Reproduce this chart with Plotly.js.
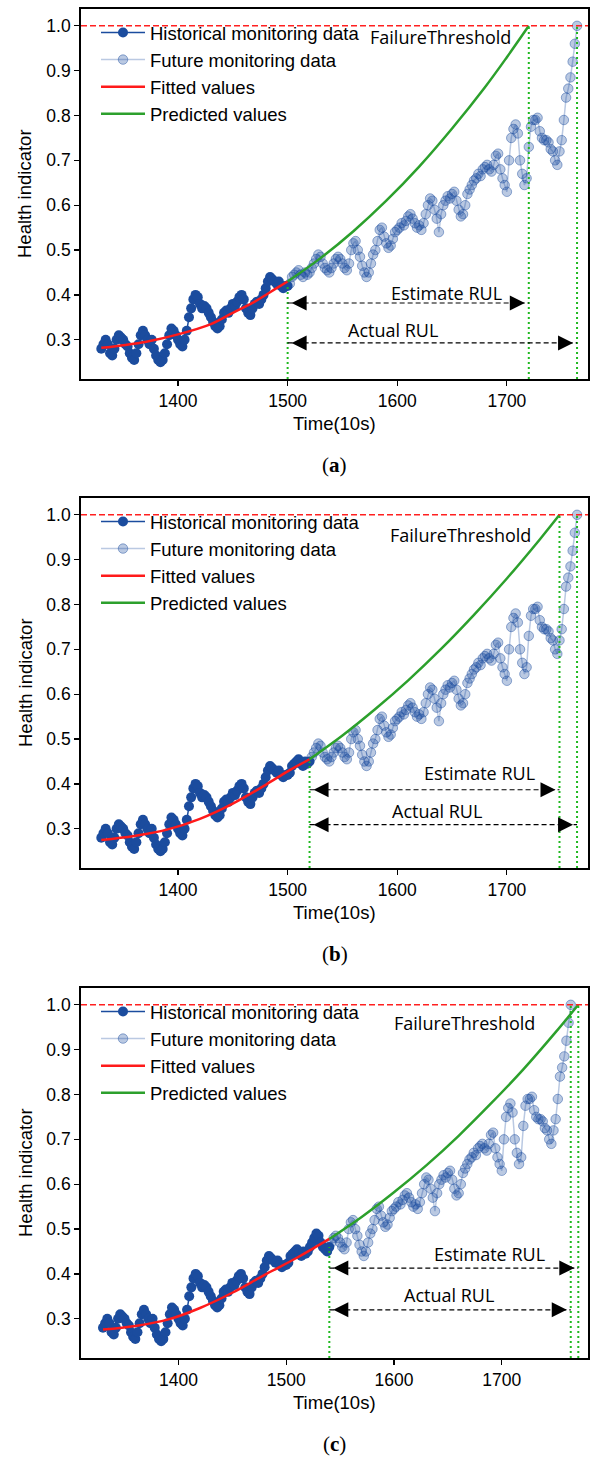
<!DOCTYPE html>
<html><head><meta charset="utf-8">
<script src="https://cdn.plot.ly/plotly-3.0.1.min.js"></script>
<style>html,body{margin:0;padding:0;background:#fff}</style>
</head><body><div id="chart" style="width:591px;height:1459px"></div>
<script>
// ---------------- DATA ----------------
const timeStamps = [
1330,1332,1334,1336,1338,1340,1342,1344,1346,1348,
1350,1352,1354,1356,1358,1360,1362,1364,1366,1368,
1370,1372,1374,1376,1378,1380,1382,1384,1386,1388,
1390,1392,1394,1396,1398,1400,1402,1404,1406,1408,
1410,1412,1414,1416,1418,1420,1422,1424,1426,1428,
1430,1432,1434,1436,1438,1440,1442,1444,1446,1448,
1450,1452,1454,1456,1458,1460,1462,1464,1466,1468,
1470,1472,1474,1476,1478,1480,1482,1484,1486,1488,
1490,1492,1494,1496,1498,1500,1502,1504,1506,1508,
1510,1512,1514,1516,1518,1520,1522,1524,1526,1528,
1530,1532,1534,1536,1538,1540,1542,1544,1546,1548,
1550,1552,1554,1556,1558,1560,1562,1564,1566,1568,
1570,1572,1574,1576,1578,1580,1582,1584,1586,1588,
1590,1592,1594,1596,1598,1600,1602,1604,1606,1608,
1610,1612,1614,1616,1618,1620,1622,1624,1626,1628,
1630,1632,1634,1636,1638,1640,1642,1644,1646,1648,
1650,1652,1654,1656,1658,1660,1662,1664,1666,1668,
1670,1672,1674,1676,1678,1680,1682,1684,1686,1688,
1690,1692,1694,1696,1698,1700,1702,1704,1706,1708,
1710,1712,1714,1716,1718,1720,1722,1724,1726,1728,
1730,1732,1734,1736,1738,1740,1742,1744,1746,1748,
1750,1752,1754,1756,1758,1760,1762,1764];
const healthIndicator = [
0.280,0.290,0.300,0.290,0.270,0.265,0.280,0.300,0.310,0.305,
0.300,0.290,0.285,0.270,0.260,0.255,0.270,0.290,0.310,0.320,
0.310,0.300,0.290,0.300,0.280,0.265,0.255,0.250,0.255,0.270,
0.290,0.310,0.325,0.320,0.310,0.300,0.290,0.285,0.300,0.320,
0.350,0.370,0.390,0.400,0.395,0.380,0.370,0.375,0.370,0.360,
0.350,0.340,0.330,0.325,0.330,0.345,0.360,0.365,0.360,0.370,
0.380,0.375,0.385,0.395,0.400,0.390,0.370,0.360,0.355,0.370,
0.380,0.385,0.380,0.390,0.400,0.415,0.430,0.440,0.435,0.430,
0.425,0.430,0.420,0.415,0.420,0.420,0.425,0.440,0.445,0.450,
0.455,0.445,0.440,0.450,0.445,0.450,0.460,0.470,0.480,0.490,
0.485,0.470,0.460,0.455,0.450,0.460,0.470,0.480,0.485,0.480,
0.470,0.460,0.455,0.470,0.500,0.515,0.520,0.500,0.485,0.465,
0.450,0.440,0.450,0.470,0.490,0.500,0.520,0.545,0.550,0.530,
0.515,0.505,0.510,0.525,0.540,0.545,0.550,0.560,0.555,0.565,
0.575,0.580,0.570,0.560,0.550,0.555,0.545,0.560,0.580,0.600,
0.615,0.610,0.590,0.570,0.540,0.580,0.600,0.610,0.620,0.615,
0.625,0.630,0.610,0.590,0.575,0.580,0.600,0.625,0.635,0.645,
0.655,0.660,0.670,0.665,0.680,0.685,0.690,0.680,0.675,0.690,
0.710,0.715,0.680,0.660,0.645,0.630,0.700,0.750,0.770,0.780,
0.760,0.700,0.670,0.645,0.660,0.730,0.775,0.790,0.790,0.795,
0.765,0.750,0.745,0.745,0.740,0.725,0.720,0.700,0.690,0.720,
0.745,0.790,0.840,0.860,0.885,0.920,0.960,1.000];

const panelLabels = ['a','b','c'];
const predictionStart = [1500, 1520, 1540];
const failureThreshold = 1.0;

const fittedTimeA  = [1330,1350,1370,1400,1430,1450,1470,1490,1500];
const fittedValueA = [0.282,0.288,0.295,0.312,0.335,0.360,0.385,0.415,0.430];
const predictedTimeA  = [1500,1530,1560,1590,1620,1650,1680,1700,1720];
const predictedValueA = [0.430,0.482,0.542,0.610,0.686,0.771,0.863,0.930,1.000];

const fittedTimeB  = [1330,1360,1390,1420,1450,1480,1500,1520];
const fittedValueB = [0.275,0.284,0.298,0.322,0.356,0.398,0.428,0.455];
const predictedTimeB  = [1520,1550,1580,1610,1640,1670,1700,1730,1748];
const predictedValueB = [0.455,0.508,0.567,0.631,0.701,0.777,0.858,0.945,1.000];

const fittedTimeC  = [1330,1360,1390,1420,1450,1480,1510,1540];
const fittedValueC = [0.276,0.284,0.298,0.324,0.358,0.398,0.436,0.478];
const predictedTimeC  = [1540,1570,1600,1630,1660,1690,1720,1750,1771];
const predictedValueC = [0.478,0.527,0.582,0.642,0.708,0.780,0.856,0.939,1.000];

const legendNames = ['Historical monitoring data','Future monitoring data','Fitted values','Predicted values'];
const textFailure = 'FailureThreshold', textEstimate = 'Estimate RUL', textActual = 'Actual RUL';
const xTickVals = [1400,1500,1600,1700];
const yTickVals = [0.3,0.4,0.5,0.6,0.7,0.8,0.9,1.0];

// ---------------- LAYOUT / STYLE ----------------
const W = 591, H = 1459;
const fits = [[fittedTimeA,fittedValueA,predictedTimeA,predictedValueA],
              [fittedTimeB,fittedValueB,predictedTimeB,predictedValueB],
              [fittedTimeC,fittedValueC,predictedTimeC,predictedValueC]];
const geo = [
  {top:9,   xr:[1311.5,1774], estY:0.382, actY:0.293, estTxt:[1645,0.404], actTxt:[1596,0.322], ftTxt:[1573,0.975]},
  {top:498, xr:[1311.5,1774], estY:0.387, actY:0.309, estTxt:[1675,0.424], actTxt:[1636,0.340], ftTxt:[1592,0.954]},
  {top:988, xr:[1309.6,1780], estY:0.413, actY:0.320, estTxt:[1689,0.444], actTxt:[1651,0.353], ftTxt:[1598,0.960]}
];
const plotH = 370, yRange = [0.2125, 1.0375];
const histColor = '#1b4c9e';
const sans = 'Liberation Sans, Arial, sans-serif';
const humanist = 'Open Sans, Noto Sans, sans-serif';
const py = p => 1 - p / H;

const data = [];
const layout = {
  width: W, height: H, margin: {l:0, r:0, t:0, b:0},
  paper_bgcolor: 'white', plot_bgcolor: 'white',
  showlegend: true, annotations: [], shapes: []
};

const tEnd = timeStamps[timeStamps.length - 1];
const vEnd = healthIndicator[healthIndicator.length - 1];

geo.forEach((g, i) => {
  const sfx = i === 0 ? '' : String(i + 1);
  const xa = 'x' + sfx, ya = 'y' + sfx, lg = 'legend' + sfx;
  const split = predictionStart[i];
  const hx = [], hy = [], fx = [], fy = [];
  timeStamps.forEach((t, k) => {
    if (t <= split) { hx.push(t); hy.push(healthIndicator[k]); }
    else { fx.push(t); fy.push(healthIndicator[k]); }
  });
  const splitVal = hy[hy.length - 1];
  const [ft, fv, pt, pv] = fits[i];
  const predEnd = pt[pt.length - 1];

  data.push({x:hx, y:hy, xaxis:xa, yaxis:ya, legend:lg, name:legendNames[0], mode:'lines+markers',
    line:{color:histColor, width:1.5}, marker:{color:histColor, size:10}});
  data.push({x:fx, y:fy, xaxis:xa, yaxis:ya, legend:lg, name:legendNames[1], mode:'lines+markers',
    line:{color:'rgba(27,76,158,0.3)', width:1.5},
    marker:{color:'rgba(27,76,158,0.3)', size:9.5, line:{color:'rgba(27,76,158,0.45)', width:1}}});
  data.push({x:ft, y:fv, xaxis:xa, yaxis:ya, legend:lg, name:legendNames[2], mode:'lines',
    line:{color:'#ff1a1a', width:2.5, shape:'spline'}});
  data.push({x:pt, y:pv, xaxis:xa, yaxis:ya, legend:lg, name:legendNames[3], mode:'lines',
    line:{color:'#2ca02c', width:2.5, shape:'spline'}});

  const top = g.top, bot = g.top + plotH;
  layout['xaxis' + sfx] = {
    domain:[81/W, 588/W], range:g.xr, anchor:ya, showgrid:false, zeroline:false,
    showline:true, mirror:true, linecolor:'black', linewidth:1.8,
    ticks:'outside', ticklen:5, tickwidth:1.2, tickcolor:'black',
    tickvals:xTickVals, tickfont:{family:sans, size:17.5, color:'black'}
  };
  layout['yaxis' + sfx] = {
    domain:[py(bot), py(top)], range:yRange, anchor:xa, showgrid:false, zeroline:false,
    showline:true, mirror:true, linecolor:'black', linewidth:1.8,
    ticks:'outside', ticklen:5, tickwidth:1.2, tickcolor:'black',
    tickvals:yTickVals, tickformat:'.1f', tickfont:{family:sans, size:17.5, color:'black'}
  };
  layout[lg] = {x:96/W, y:py(top + 5), xanchor:'left', yanchor:'top', bgcolor:'rgba(0,0,0,0)',
    borderwidth:0, itemwidth:44, font:{family:sans, size:18.5, color:'black'}, tracegroupgap:0};

  // threshold line
  layout.shapes.push({type:'line', xref:xa + ' domain', yref:ya, x0:0, x1:1, y0:failureThreshold, y1:failureThreshold,
    line:{color:'#ff2020', width:1.5, dash:'6px,3px'}, layer:'above'});
  // vertical dotted lines
  [[split, splitVal], [predEnd, failureThreshold], [tEnd, vEnd]].forEach(([vx, vy]) => {
    layout.shapes.push({type:'line', xref:xa, yref:ya, x0:vx, x1:vx, y0:yRange[0], y1:vy,
      line:{color:'#20b820', width:2, dash:'2px,3px'}, layer:'above'});
  });
  // RUL arrows
  [[g.estY, predEnd], [g.actY, tEnd]].forEach(([ay, xEnd]) => {
    layout.shapes.push({type:'line', xref:xa, yref:ya, x0:split, x1:xEnd, y0:ay, y1:ay,
      line:{color:'black', width:1.2, dash:'5px,3px'}, layer:'above'});
    layout.annotations.push({x:split, y:ay, xref:xa, yref:ya, ax:12, ay:0, axref:'pixel', ayref:'pixel',
      text:'', showarrow:true, arrowhead:2, arrowsize:3, arrowwidth:1, arrowcolor:'black', standoff:4});
    layout.annotations.push({x:xEnd, y:ay, xref:xa, yref:ya, ax:-12, ay:0, axref:'pixel', ayref:'pixel',
      text:'', showarrow:true, arrowhead:2, arrowsize:3, arrowwidth:1, arrowcolor:'black', standoff:4});
  });
  layout.annotations.push({x:g.estTxt[0], y:g.estTxt[1], xref:xa, yref:ya, text:textEstimate, showarrow:false,
    xanchor:'center', yanchor:'middle', font:{family:humanist, size:18, color:'black'}});
  layout.annotations.push({x:g.actTxt[0], y:g.actTxt[1], xref:xa, yref:ya, text:textActual, showarrow:false,
    xanchor:'center', yanchor:'middle', font:{family:humanist, size:18, color:'black'}});
  layout.annotations.push({x:g.ftTxt[0], y:g.ftTxt[1], xref:xa, yref:ya, text:textFailure, showarrow:false,
    xanchor:'left', yanchor:'middle', font:{family:humanist, size:18, color:'black'}});

  // axis titles & caption
  layout.annotations.push({x:25/W, y:py(top + plotH/2), xref:'paper', yref:'paper', text:'Health indicator',
    xanchor:'center', yanchor:'middle', textangle:-90, showarrow:false, font:{family:sans, size:18.5, color:'black'}});
  layout.annotations.push({x:334.5/W, y:py(top + 414), xref:'paper', yref:'paper', text:'Time(10s)',
    xanchor:'center', yanchor:'middle', showarrow:false, font:{family:sans, size:18.5, color:'black'}});
  layout.annotations.push({x:334.5/W, y:py(top + 456), xref:'paper', yref:'paper',
    xanchor:'center', yanchor:'middle',
    text:'(<b>' + panelLabels[i] + '</b>)', showarrow:false, font:{family:'Liberation Serif, serif', size:21, color:'black'}});
});

Plotly.newPlot('chart', data, layout, {staticPlot:true, displayModeBar:false});
</script></body></html>
